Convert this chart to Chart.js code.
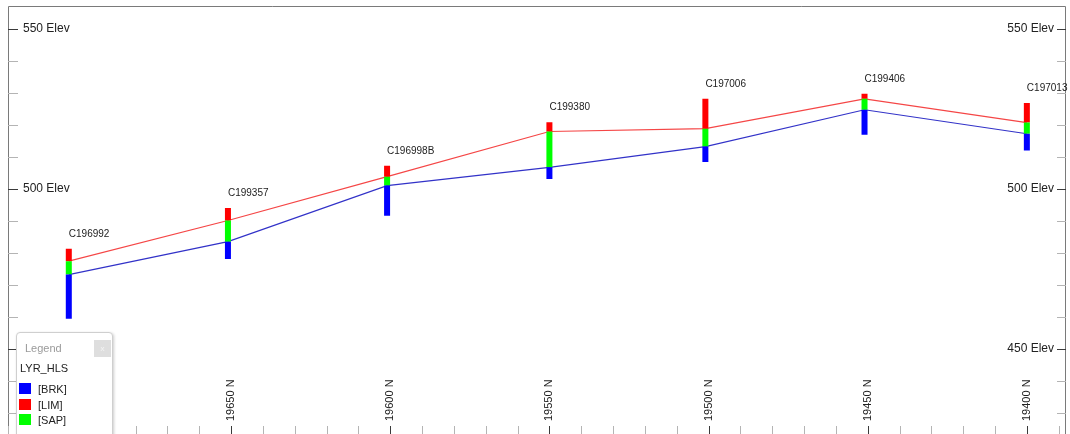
<!DOCTYPE html>
<html>
<head>
<meta charset="utf-8">
<title>Section LYR_HLS</title>
<script src="https://cdn.jsdelivr.net/npm/chart.js@4.4.0/dist/chart.umd.min.js"></script>
<style>
    body { margin: 0; background: #fff; }
    #wrap { position: relative; width: 1070px; height: 434px; overflow: hidden; }
    #legend {
        position: absolute; left: 16px; top: 332px; width: 95px; height: 120px;
        background: #fff; border: 1px solid #cfcfcf; border-radius: 4px;
        box-shadow: 1px 1px 3px rgba(0, 0, 0, 0.2);
        font-family: "Liberation Sans", Arial, sans-serif; font-size: 11px; color: #222;
    }
    #legend .ttl { position: absolute; left: 8px; top: 9px; color: #9a9a9a; }
    #legend .cls { position: absolute; left: 77px; top: 7px; width: 17px; height: 17px; background: #dedede; color: #f4f4f4; font-size: 8px; text-align: center; line-height: 17px; }
    #legend .fld { position: absolute; left: 3px; top: 29px; }
    #legend .item { position: absolute; left: 2px; }
    #legend .item span { display: inline-block; width: 12px; height: 11px; vertical-align: -1px; margin-right: 7px; }
</style>
</head>
<body>
<div id="wrap">
    <canvas id="section" width="1070" height="434"></canvas>
    <div id="legend">
        <div class="ttl">Legend</div>
        <div class="cls">x</div>
        <div class="fld">LYR_HLS</div>
        <div class="item" style="top:50px"><span style="background:#0000ff"></span>[BRK]</div>
        <div class="item" style="top:66px"><span style="background:#ff0000"></span>[LIM]</div>
        <div class="item" style="top:81px"><span style="background:#00ff00"></span>[SAP]</div>
    </div>
</div>
<script>
// drill holes along the section
const holes = ['C196992', 'C199357', 'C196998B', 'C199380', 'C197006', 'C199406', 'C197013'];
const northing = [19701, 19651, 19601, 19550, 19501, 19451, 19400];
// elevations of the layer contacts in each hole
const limTop = [481.3, 494.0, 507.2, 520.8, 528.1, 529.7, 526.8];
const sapTop = [477.4, 490.1, 503.8, 517.9, 518.8, 528.1, 520.7];
const brkTop = [473.2, 483.5, 501.0, 506.7, 513.2, 524.7, 517.2];
const holeBottom = [459.4, 478.1, 491.6, 503.1, 508.4, 516.9, 512.0];

// axis ticks
const elevMajor = [450, 500, 550];
const elevMinor = [430, 440, 450, 460, 470, 480, 490, 500, 510, 520, 530, 540, 550];
const northMajor = [19400, 19450, 19500, 19550, 19600, 19650, 19700];
const northMinor = [19390, 19400, 19410, 19420, 19430, 19440, 19450, 19460, 19470, 19480, 19490,
    19500, 19510, 19520, 19530, 19540, 19550, 19560, 19570, 19580, 19590, 19600, 19610, 19620,
    19630, 19640, 19650, 19660, 19670, 19680, 19690, 19700, 19710, 19720];

function column(lo, hi) {
    let pts = [];
    for (let i = 0; i < northing.length; i++) {
        pts.push({ x: northing[i], y: lo[i] }, { x: northing[i], y: hi[i] }, { x: northing[i], y: null });
    }
    return pts;
}

function contact(vals) {
    return northing.map((n, i) => ({ x: n, y: vals[i] }));
}

const sectionAxes = {
    id: 'sectionAxes',
    beforeDatasetsDraw(chart) {
        const { ctx, chartArea: a, scales: { x, y } } = chart;
        ctx.save();
        ctx.lineWidth = 1;
        // frame
        ctx.strokeStyle = '#7a7a7a';
        ctx.beginPath();
        ctx.moveTo(a.left + 0.5, a.bottom);
        ctx.lineTo(a.left + 0.5, a.top - 0.5);
        ctx.lineTo(a.right - 0.5, a.top - 0.5);
        ctx.lineTo(a.right - 0.5, a.bottom);
        ctx.stroke();
        // elevation ticks, both sides
        elevMinor.forEach(v => {
            const yp = Math.round(y.getPixelForValue(v)) + 0.5;
            ctx.strokeStyle = elevMajor.includes(v) ? '#3a3a3a' : '#b4b4b4';
            ctx.beginPath();
            ctx.moveTo(a.left, yp); ctx.lineTo(a.left + 10, yp);
            ctx.moveTo(a.right - 9, yp); ctx.lineTo(a.right, yp);
            ctx.stroke();
        });
        // northing ticks
        northMinor.forEach(n => {
            const xp = Math.round(x.getPixelForValue(n)) + 0.5;
            ctx.strokeStyle = northMajor.includes(n) ? '#3a3a3a' : '#b4b4b4';
            ctx.beginPath();
            ctx.moveTo(xp, a.bottom - 8); ctx.lineTo(xp, a.bottom);
            ctx.stroke();
        });
        // labels
        ctx.fillStyle = '#222';
        ctx.font = '12px "Liberation Sans", Arial, sans-serif';
        ctx.textBaseline = 'middle';
        elevMajor.forEach(v => {
            const yp = y.getPixelForValue(v);
            ctx.textAlign = 'left';
            ctx.fillText(v + ' Elev', a.left + 15, yp);
            ctx.textAlign = 'right';
            ctx.fillText(v + ' Elev', a.right - 12, yp);
        });
        ctx.font = '11px "Liberation Sans", Arial, sans-serif';
        ctx.textAlign = 'left';
        northMajor.forEach(n => {
            ctx.save();
            ctx.translate(x.getPixelForValue(n), a.bottom - 13);
            ctx.rotate(-Math.PI / 2);
            ctx.fillText(n + ' N', 0, 0);
            ctx.restore();
        });
        ctx.restore();
    },
    afterDatasetsDraw(chart) {
        const { ctx, scales: { x, y } } = chart;
        ctx.save();
        ctx.fillStyle = '#222';
        ctx.font = '10px "Liberation Sans", Arial, sans-serif';
        ctx.textAlign = 'left';
        ctx.textBaseline = 'alphabetic';
        holes.forEach((h, i) => {
            ctx.fillText(h, x.getPixelForValue(northing[i]), y.getPixelForValue(limTop[i]) - 12);
        });
        ctx.restore();
    }
};

new Chart(document.getElementById('section'), {
    type: 'line',
    data: {
        datasets: [
            { label: '[BRK]', data: column(holeBottom, brkTop), borderColor: '#0000ff', borderWidth: 6, order: 1 },
            { label: '[SAP]', data: column(brkTop, sapTop), borderColor: '#00ff00', borderWidth: 6, order: 1 },
            { label: '[LIM]', data: column(sapTop, limTop), borderColor: '#ff0000', borderWidth: 6, order: 1 },
            { label: 'LIM base', data: contact(sapTop), borderColor: 'rgb(245,70,70)', borderWidth: 1.2, order: 2 },
            { label: 'SAP base', data: contact(brkTop), borderColor: 'rgb(50,50,200)', borderWidth: 1.2, order: 2 }
        ]
    },
    options: {
        responsive: false,
        animation: false,
        spanGaps: false,
        layout: { padding: { left: 8, top: 7, right: 4, bottom: 0 } },
        elements: { point: { radius: 0, hoverRadius: 0 }, line: { tension: 0, borderCapStyle: 'butt' } },
        scales: {
            x: { type: 'linear', reverse: true, min: 19387.7, max: 19720.1, display: false },
            y: { type: 'linear', min: 423.4, max: 556.8, display: false }
        },
        plugins: { legend: { display: false }, tooltip: { enabled: false } }
    },
    plugins: [sectionAxes]
});
</script>
</body>
</html>
